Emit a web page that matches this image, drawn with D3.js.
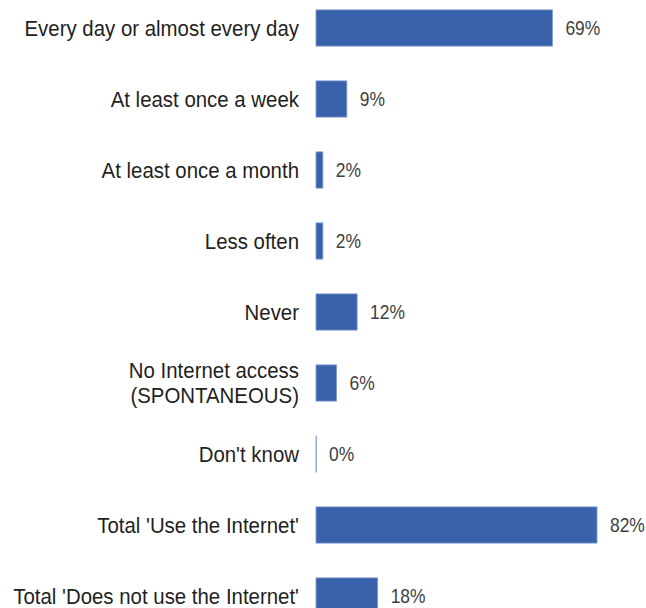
<!DOCTYPE html>
<html>
<head>
<meta charset="utf-8">
<script src="https://cdn.jsdelivr.net/npm/d3@7"></script>
<style>
  body { margin: 0; background: #fff; }
</style>
</head>
<body>
<div id="chart"></div>
<script>
// Data
const categories = [
    "Every day or almost every day",
    "At least once a week",
    "At least once a month",
    "Less often",
    "Never",
    "No Internet access\n(SPONTANEOUS)",
    "Don't know",
    "Total 'Use the Internet'",
    "Total 'Does not use the Internet'"
];
const values = [69, 9, 2, 2, 12, 6, 0, 82, 18];

const width = 646;
const height = 608;

const svg = d3.select("#chart")
    .append("svg")
    .attr("width", width)
    .attr("height", height);

// Scales
const x = d3.scaleLinear()
    .domain([0, 82])
    .range([316, 597]);

const y = d3.scaleBand()
    .domain(categories)
    .range([-7.5, 631.5])
    .paddingInner(0.49)
    .paddingOuter(0.245);

const rows = categories.map((c, i) => ({label: c, value: values[i]}));

// Bars (zero values still show a thin edge line)
svg.selectAll(".bar")
    .data(rows)
    .enter().append("rect")
    .attr("class", "bar")
    .attr("x", x(0))
    .attr("y", d => y(d.label))
    .attr("width", d => Math.max(x(d.value) - x(0), 0.3))
    .attr("height", y.bandwidth())
    .attr("fill", "#3a62aa")
    .attr("stroke", "#7d9bd2")
    .attr("stroke-width", 0.8);

// Value labels (text is slightly condensed in the original)
svg.selectAll(".value")
    .data(rows)
    .enter().append("text")
    .attr("class", "value")
    .attr("transform", d => `translate(${x(d.value) + 13},${y(d.label) + y.bandwidth() / 2}) scale(0.87,1)`)
    .attr("dy", "0.36em")
    .style("font-family", "Liberation Sans, Arial, sans-serif")
    .style("font-size", "20px")
    .style("fill", "#404040")
    .text(d => d.value + "%");

// Category labels
const labels = svg.selectAll(".label")
    .data(rows)
    .enter().append("text")
    .attr("class", "label")
    .attr("text-anchor", "end")
    .attr("transform", d => `translate(299,${y(d.label) + y.bandwidth() / 2}) scale(0.95,1)`)
    .style("font-family", "Liberation Sans, Arial, sans-serif")
    .style("font-size", "21.5px")
    .style("fill", "#1f1f1f");

labels.each(function(d) {
    const lines = d.label.split("\n");
    const t = d3.select(this);
    lines.forEach((line, i) => {
        t.append("tspan")
            .attr("x", 0)
            .attr("dy", i === 0 ? (0.35 - (lines.length - 1) * 0.56) + "em" : "1.12em")
            .text(line);
    });
});
</script>
</body>
</html>
